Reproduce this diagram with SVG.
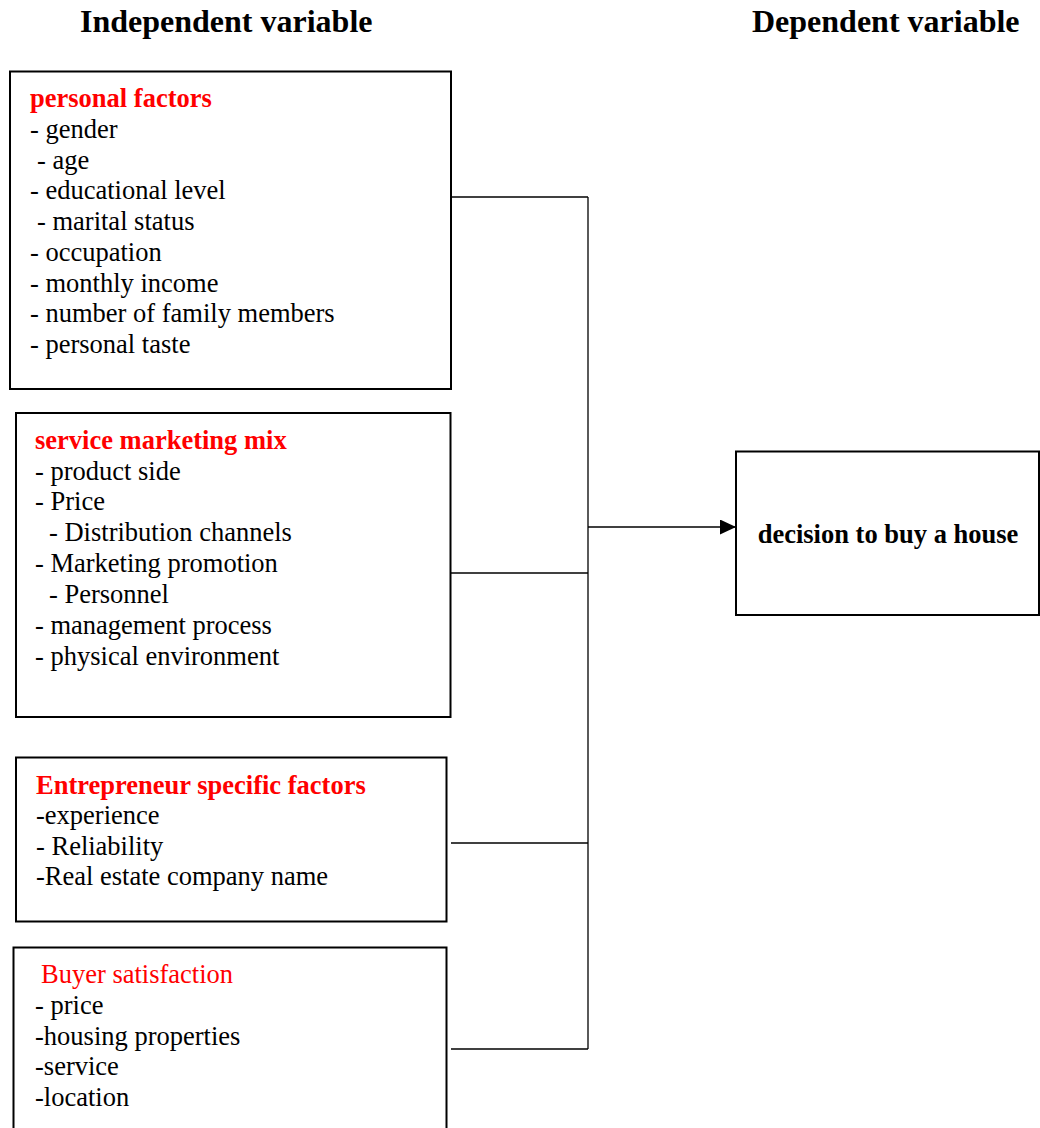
<svg xmlns="http://www.w3.org/2000/svg" width="1040" height="1128" viewBox="0 0 1040 1128">
<style>
  text { font-family: "Liberation Serif", "Times New Roman", serif; font-size: 26.5px; fill: #000; }
  .head { font-size: 32px; font-weight: bold; }
  .title { font-weight: bold; fill: #ff0000; }
  .red { fill: #ff0000; }
  .bold { font-weight: bold; }
  .box { fill: #fff; stroke: #000; stroke-width: 2; }
  .conn { fill: none; stroke: #000; stroke-width: 1.3; }
</style>
<defs>
  <marker id="arrow" markerWidth="16" markerHeight="15" refX="16" refY="7.5" orient="auto" markerUnits="userSpaceOnUse">
    <path d="M0,0 L16,7.5 L0,15 Z" fill="#000"/>
  </marker>
</defs>
<rect width="1040" height="1128" fill="#fff"/>
<g id="headings">
  <text class="head" x="80" y="32">Independent variable</text>
  <text class="head" x="752" y="32">Dependent variable</text>
</g>
<g id="connectors">
  <line class="conn" x1="588" y1="197" x2="588" y2="1049"/>
  <line class="conn" x1="451" y1="197" x2="588" y2="197"/>
  <line class="conn" x1="451" y1="573" x2="588" y2="573"/>
  <line class="conn" x1="451" y1="843" x2="588" y2="843"/>
  <line class="conn" x1="451" y1="1049" x2="588" y2="1049"/>
  <line class="conn" x1="588" y1="527" x2="736" y2="527" marker-end="url(#arrow)"/>
</g>
<g id="personal-factors">
  <rect class="box" x="10" y="71.5" width="441" height="317.5"/>
  <text class="title" x="30" y="107">personal factors</text>
  <text x="30" y="138">- gender</text>
  <text x="37" y="168.5">- age</text>
  <text x="30" y="199">- educational level</text>
  <text x="37" y="229.5">- marital status</text>
  <text x="30" y="260.5">- occupation</text>
  <text x="30" y="291.5">- monthly income</text>
  <text x="30" y="322">- number of family members</text>
  <text x="30" y="352.5">- personal taste</text>
</g>
<g id="service-marketing-mix">
  <rect class="box" x="16" y="413" width="434.5" height="304"/>
  <text class="title" x="35" y="449">service marketing mix</text>
  <text x="35" y="479.5">- product side</text>
  <text x="35" y="510">- Price</text>
  <text x="49" y="541">- Distribution channels</text>
  <text x="35" y="572">- Marketing promotion</text>
  <text x="49" y="602.5">- Personnel</text>
  <text x="35" y="633.5">- management process</text>
  <text x="35" y="664.5">- physical environment</text>
</g>
<g id="entrepreneur-factors">
  <rect class="box" x="16" y="757.5" width="430.5" height="164"/>
  <text class="title" x="36" y="794">Entrepreneur specific factors</text>
  <text x="36" y="824">-experience</text>
  <text x="36" y="854.5">- Reliability</text>
  <text x="36" y="885">-Real estate company name</text>
</g>
<g id="buyer-satisfaction">
  <rect class="box" x="13.5" y="947.5" width="433" height="190"/>
  <text class="red" x="41" y="983">Buyer satisfaction</text>
  <text x="35" y="1014">- price</text>
  <text x="35" y="1044.5">-housing properties</text>
  <text x="35" y="1075">-service</text>
  <text x="35" y="1105.5">-location</text>
</g>
<g id="decision">
  <rect class="box" x="736" y="451.5" width="303" height="163.5"/>
  <text class="bold" x="888" y="542.5" text-anchor="middle">decision to buy a house</text>
</g>
</svg>
